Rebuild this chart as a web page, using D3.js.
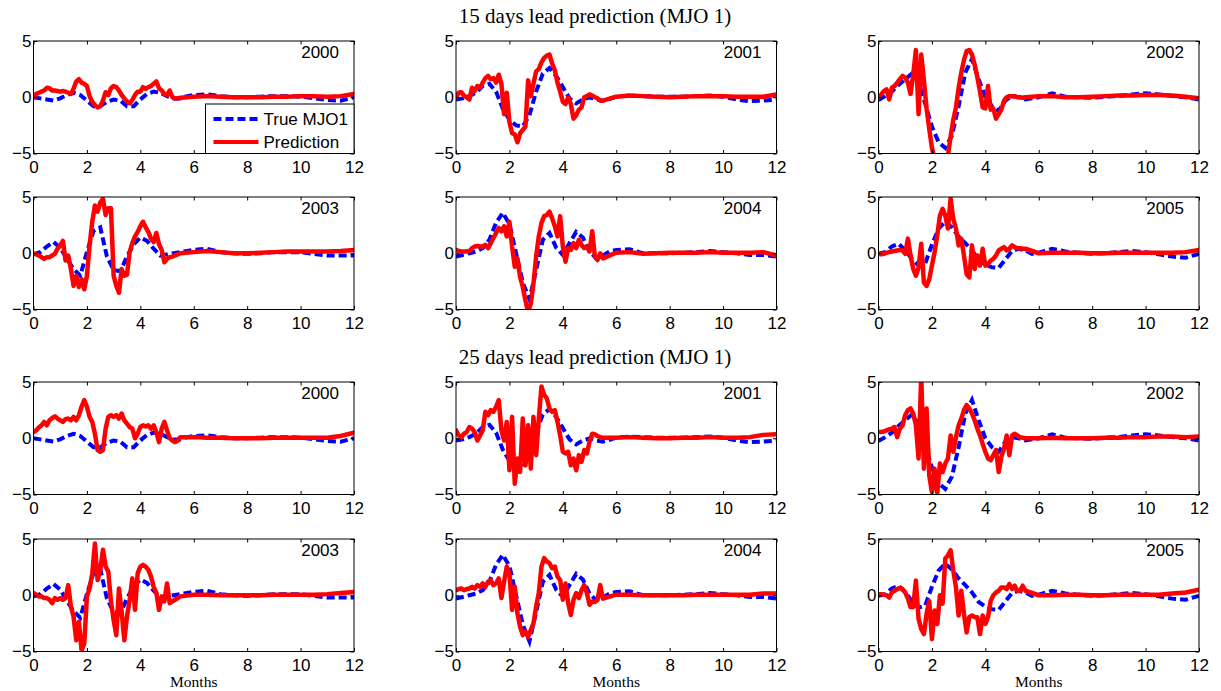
<!DOCTYPE html>
<html>
<head>
<meta charset="utf-8">
<script src="https://cdn.jsdelivr.net/npm/d3@7"></script>
<style>
  body { margin: 0; background: #fff; }
</style>
</head>
<body>
<div id="canvas"></div>
<script>
const years = [2000, 2001, 2002, 2003, 2004, 2005]
const leads = [15, 25]
const xTicks = [0, 2, 4, 6, 8, 10, 12]
const yTicks = [-5, 0, 5]

// sample months for the true index and for the predictions
const trueMonths = [0, 0.25, 0.5, 0.75, 1, 1.25, 1.5, 1.75, 2, 2.25, 2.5, 2.75, 3, 3.25, 3.5, 3.75, 4, 4.25, 4.5, 4.75, 5, 5.25, 5.5, 5.75, 6,
  6.5, 7, 7.5, 8, 8.5, 9, 9.5, 10, 10.5, 11, 11.5, 12]
const predMonths = [0, 0.1, 0.2, 0.3, 0.4, 0.5, 0.6, 0.7, 0.8, 0.9, 1, 1.1, 1.2, 1.3, 1.4, 1.5, 1.6, 1.7, 1.8, 1.9,
  2, 2.1, 2.2, 2.3, 2.4, 2.5, 2.6, 2.7, 2.8, 2.9, 3, 3.1, 3.2, 3.3, 3.4, 3.5, 3.6, 3.7, 3.8, 3.9,
  4, 4.1, 4.2, 4.3, 4.4, 4.5, 4.6, 4.7, 4.8, 4.9, 5, 5.1, 5.2, 5.3, 5.4, 5.5,
  6, 6.5, 7, 7.5, 8, 8.5, 9, 9.5, 10, 10.5, 11, 11.5, 12]

// true MJO1
const true2000 = [0, -0.1, -0.2, -0.3, -0.1, 0.2, 0.4, 0.2, -0.3, -0.8, -0.8, -0.4, -0.2, -0.3, -0.8, -0.8, -0.2, 0.3, 0.5, 0.4, 0.1, -0.1, -0.1, 0.1, 0.2,
  0.25, 0.1, 0, 0, 0.05, 0.1, 0.1, 0.05, -0.1, -0.25, -0.3, 0]
const true2001 = [-0.2, -0.1, 0.1, 0.4, 1.0, 1.2, 0.5, -1.0, -2.0, -2.5, -2.6, -1.6, 0.5, 2.1, 2.6, 1.9, 0.9, -0.1, -0.55, -0.2, 0, -0.2, -0.3, -0.15, 0.05,
  0.15, 0.1, 0.05, 0.05, 0.05, 0.1, 0.15, 0.05, -0.2, -0.35, -0.3, -0.2]
const true2002 = [-0.25, 0.1, 0.5, 1.1, 1.6, 2.1, 1.3, -0.6, -2.6, -4.0, -4.5, -3.4, -0.8, 2.2, 3.4, 1.6, 0, -0.8, -1.2, -0.3, 0.1, 0, -0.2, -0.1, 0,
  0.35, 0.05, 0, -0.05, 0.05, 0.1, 0.25, 0.35, 0.25, 0.1, 0, -0.2]
const true2003 = [-0.1, 0.1, 0.6, 1.0, 0.5, -0.5, -1.4, -2.0, 0.1, 2.0, 2.3, -0.3, -1.5, -1.6, -0.3, 0.8, 1.4, 1.1, 0.4, -0.2, -0.1, 0, 0.1, 0.2, 0.3,
  0.4, 0.1, 0, -0.05, 0, 0.1, 0.1, 0.1, -0.05, -0.2, -0.2, -0.2]
const true2004 = [-0.3, -0.15, 0, 0.15, 0.45, 1.2, 2.7, 3.6, 2.6, 0, -2.6, -4.1, -1.5, 1.2, 1.8, 0.5, -0.15, 0.9, 1.9, 1.4, 0.15, -0.45, -0.2, 0.15, 0.3,
  0.35, 0, 0, 0, 0.05, 0.1, 0.2, 0.1, 0, -0.15, -0.15, -0.3]
const true2005 = [-0.05, 0.1, 0.6, 0.85, 0.25, -0.5, -1.1, -0.9, 0.75, 2.2, 2.8, 2.3, 1.5, 0.9, 0.25, -0.6, -1.0, -1.25, -1.3, -0.55, 0.2, 0.4, 0.25, -0.05, 0.05,
  0.4, 0.15, 0.05, -0.05, 0, 0.1, 0.2, 0.1, -0.1, -0.3, -0.4, -0.05]

// 15 days lead prediction
const pred15_2000 = [0, 0.3, 0.4, 0.5, 0.6, 0.85, 0.8, 0.6, 0.6, 0.55,
  0.5, 0.55, 0.5, 0.4, 0.3, 0.75, 1.4, 1.6, 1.3, 1.2,
  1.0, 0.1, -0.4, -0.7, -0.9, -0.8, -0.3, 0.45, 0.2, 0.8,
  1.0, 0.9, 0.6, 0.2, -0.1, -0.4, -0.55, -0.25, 0.2, 0.5,
  0.5, 0.9, 0.75, 0.9, 1.0, 1.2, 1.4, 0.8, 0.6, 0.3,
  0.2, 0.6, 0, -0.1, -0.1, -0.05,
  0.05, 0.1, 0.05, 0, 0, 0, 0.05, 0.05, 0.1, 0.1, 0.05, 0.1, 0.3]
const pred15_2001 = [0, 0.4, 0.45, 0.15, 0, -0.2, 0.85, 0.55, 1.0, 0.85,
  1.3, 1.7, 1.9, 1.6, 1.7, 1.3, 2.0, 1.2, -1.5, 0.4,
  -2.2, -3.2, -3.3, -4.0, -3.2, -2.9, -2.6, 1.5, 0.1, 1.2,
  2.3, 2.5, 3.1, 3.5, 3.7, 3.8, 3.0, 2.4, 1.3, 0.5,
  -0.4, -0.6, 0, -0.6, -1.9, -1.6, -1.1, -0.9, 0, 0.1,
  0.25, 0.15, 0, -0.1, -0.3, -0.3,
  0.05, 0.15, 0.1, 0.05, 0, 0.05, 0.1, 0.1, 0.1, 0.05, 0.05, 0.05, 0.25]
const pred15_2002 = [0, 0.25, 0.55, 0.7, -0.2, 0.85, 1.0, 1.3, 1.6, 1.9,
  1.75, 1.3, 0.3, 2.0, 4.2, -1.5, 3.8, 1.5, -1.0, -2.8,
  -4.5, -5.5, -5.5, -6, -5.5, -5.2, -5.2, -3.5, -2.0, -0.9,
  0.8, 2.2, 3.3, 4.1, 4.2, 3.8, 2.9, 1.8, 0.5, -0.9,
  -1.0, 1.0, -1.1, -1.0, -1.9, -1.5, -1.1, -0.3, 0, 0.1,
  0.1, 0.1, 0, 0, -0.05, 0,
  0.1, 0.1, 0, 0, 0.05, 0.1, 0.15, 0.15, 0.2, 0.2, 0.15, 0.05, -0.1]
const pred15_2003 = [0, -0.1, -0.2, -0.35, -0.5, -0.35, -0.35, -0.2, -0.05, 0.4,
  0.7, 1.1, -0.65, -0.2, -1.4, -2.9, -2.0, -3.0, -2.3, -3.2,
  -2.0, 0.7, 2.8, 4.25, 3.7, 4.5, 4.85, 3.4, 4.0, 4.0,
  -2.0, -2.9, -3.5, -1.4, -2.0, -1.9, 0.1, 0.9, 1.5, 1.9,
  2.4, 2.8, 2.3, 1.9, 1.3, 1.0, 1.8, 0.8, 0.3, -0.8,
  -0.5, -0.35, -0.3, -0.2, -0.1, 0,
  0.1, 0.2, 0.1, 0, 0, 0.05, 0.1, 0.15, 0.15, 0.15, 0.15, 0.2, 0.3]
const pred15_2004 = [0.3, 0.2, 0.15, 0.15, 0.15, 0.2, 0.45, 0.6, 0.65, 0.6,
  0.6, 0.75, 0.45, 0.9, 1.35, 1.8, 2.25, 1.95, 2.4, 1.5,
  2.8, 0.6, -1.2, -0.45, -2.1, -3.0, -4.2, -5.2, -4.5, -2.7,
  -0.3, 1.5, 2.7, 3.3, 3.4, 3.7, 3.1, 2.4, 1.5, 3.3,
  0.6, -0.75, 0.45, 0.3, 0.9, 0.45, 1.2, 0.75, 0.45, 0.6,
  0.15, 1.95, -0.3, -0.6, 0, -0.45,
  0.05, 0.1, -0.05, 0, 0.05, 0.05, 0.05, 0.1, 0.05, 0.05, 0.05, 0.1, -0.2]
const pred15_2005 = [-0.05, -0.1, -0.05, 0.05, 0.1, 0.15, 0.2, 0.25, 0.3, 0.25,
  -0.05, 1.3, -0.2, -1.4, -2.0, -1.25, 0.85, -2.6, -2.9, -2.3,
  -1.1, 0.1, 1.6, 3.35, 3.95, 3.35, 2.2, 4.85, 3.05, 2.2,
  0.7, 1.3, -0.2, -1.85, -2.15, 0.7, -1.4, -0.2, -1.1, 0.4,
  -1.1, -0.95, -0.65, -0.5, -0.2, 0.25, 0.4, 0.55, 0.25, 0.4,
  0.7, 0.55, 0.45, 0.45, 0.4, 0.4,
  0, 0.05, 0.05, 0.05, 0, 0, 0.05, 0.05, 0.05, 0.05, 0.05, 0.1, 0.3]

// 25 days lead prediction
const pred25_2000 = [0.55, 0.7, 0.95, 1.15, 1.45, 1.15, 1.6, 1.8, 1.95, 1.75,
  1.6, 1.45, 1.7, 1.75, 1.6, 1.9, 1.6, 2.05, 2.8, 3.4,
  2.8, 1.9, 1.45, 0.4, -1.05, -1.2, -1.05, 0.85, 1.9, 2.05,
  1.9, 2.05, 1.75, 2.2, 1.6, 1.3, 1.0, 0.85, 0, 0.4,
  1.0, 1.15, 1.05, 1.15, 0.85, 1.15, 0.55, -0.35, 0.85, 1.45,
  0.7, 0, -0.2, -0.35, -0.2, 0.1,
  0.1, 0.05, 0.05, 0, 0, 0, 0.05, 0.05, 0.05, 0.05, 0.05, 0.2, 0.5]
const pred25_2001 = [0.7, 0.25, 0.1, 0.4, 0.55, 1.0, 0.85, 0.55, -0.2, 0.25,
  0.7, 2.35, 2.05, 2.5, 2.35, 2.8, 3.4, 0.7, -0.2, 1.45,
  -2.85, 1.9, -4.05, -1.8, -3.0, 1.75, -2.4, 1.15, -2.7, 1.9,
  -1.5, 1.75, 4.6, 3.85, 3.55, 2.65, 2.35, 2.5, 1.45, 0.25,
  -1.2, -1.35, -1.2, -2.4, -1.8, -2.85, -1.5, -2.1, -1.05, -1.35,
  -0.3, 0.4, 0.35, 0.2, 0.1, 0.05,
  0.05, 0.1, 0.05, 0, 0, 0.05, 0.05, 0.1, 0.05, 0.05, 0.1, 0.3, 0.35]
const pred25_2002 = [0.55, 0.55, 0.6, 0.7, 0.8, 0.85, 1.0, 0.1, 0.85, 1.15,
  2.05, 2.5, 2.65, 2.2, 1.15, -1.8, 5.6, -2.7, 2.65, -3.3,
  -4.8, -2.7, -4.9, -2.25, -3.0, -2.25, -1.8, 0.25, -1.2, 0.1,
  1.15, 1.75, 2.5, 2.95, 2.65, 2.2, 1.6, 0.85, 0.25, -0.5,
  -1.2, -1.8, -1.95, -1.5, -1.05, -3.0, -1.65, -0.9, 0.25, -1.5,
  0.25, 0.4, 0.25, 0.1, 0.05, 0,
  0, 0.05, 0, 0, 0, 0.05, 0.05, 0.1, 0.1, 0.15, 0.15, 0.1, 0.15]
const pred25_2003 = [0.2, 0.05, -0.1, -0.1, -0.25, -0.25, -0.4, -0.7, -0.25, -0.4,
  -0.25, -0.4, -0.25, 0.9, -1.0, -1.9, -4.0, -2.35, -4.9, -4.3,
  -0.1, 0.6, 1.95, 4.6, 1.35, 2.25, 4.05, 2.55, 2.1, -0.55,
  -2.2, -3.55, 0.6, -1.45, -4.0, -1.9, -0.4, 1.5, -1.3, 1.95,
  2.55, 2.7, 2.55, 2.25, 1.65, 0.75, 0.2, -1.3, -0.1, -0.55,
  1.05, -0.7, -0.55, -0.4, -0.25, -0.1,
  0.05, 0.05, 0, 0, 0, 0, 0.05, 0.05, 0.05, 0.05, 0.1, 0.2, 0.3]
const pred25_2004 = [0.45, 0.55, 0.6, 0.45, 0.55, 0.6, 0.75, 0.6, 0.9, 0.75,
  1.05, 0.75, 1.2, 1.35, 0.9, 1.05, 1.5, -0.25, 1.2, 2.55,
  1.95, -1.3, 0.75, -1.6, -2.8, -3.55, -3.25, -3.7, -3.1, -2.5,
  -1.0, 0.2, 2.55, 3.3, 3.0, 2.85, 2.4, 2.55, 1.65, 1.35,
  -0.4, 1.05, -0.7, -1.75, -0.4, 0.2, -0.25, 0.45, 0.9, 0.2,
  -0.85, -0.55, -0.6, -0.4, 0.9, -0.3,
  0.05, 0.05, 0, 0, 0, 0, 0.05, 0.05, 0.05, 0.05, 0.05, 0.15, 0.15]
const pred25_2005 = [0.1, 0.1, 0.05, 0, -0.2, 0.25, 0.4, 0.55, 0.65, 0.55,
  0.25, -0.3, -1.05, -1.05, 1.3, -2.1, -3.0, -3.45, -1.65, -0.5,
  -3.9, -1.35, -2.55, 0, -0.75, 3.25, 3.55, 4.0, 2.2, 0.7,
  -1.8, 0.4, -1.65, -3.3, -1.95, -1.8, -1.95, -1.95, -3.45, -1.8,
  -2.55, -1.95, -0.5, 0, 0.25, 0.4, 0.7, 0.7, 0.55, 1.0,
  0.55, 0.85, 0.4, 0.4, 0.85, 0.4,
  0, 0, 0.05, 0.05, 0, 0, 0.05, 0.05, 0.05, 0.05, 0.15, 0.25, 0.5]

const trueByYear = { 2000: true2000, 2001: true2001, 2002: true2002, 2003: true2003, 2004: true2004, 2005: true2005 }
const predByLead = {
  15: { 2000: pred15_2000, 2001: pred15_2001, 2002: pred15_2002, 2003: pred15_2003, 2004: pred15_2004, 2005: pred15_2005 },
  25: { 2000: pred25_2000, 2001: pred25_2001, 2002: pred25_2002, 2003: pred25_2003, 2004: pred25_2004, 2005: pred25_2005 },
}

const width = 1221
const height = 691
const colLeft = [33.5, 456, 878.5]
const rowTop = [41, 197, 382, 539]
const pw = 320.5
const ph = 112.5
const sans = '"Liberation Sans", Arial, sans-serif'
const serif = '"Liberation Serif", "Times New Roman", serif'

const svg = d3.select('#canvas').append('svg')
  .attr('width', width)
  .attr('height', height)

svg.append('defs').append('clipPath').attr('id', 'clip')
  .append('rect').attr('width', pw).attr('height', ph)

const x = d3.scaleLinear().domain([0, 12]).range([0, pw])
const y = d3.scaleLinear().domain([-5, 5]).range([ph, 0])

const lineFor = (months) => d3.line()
  .x((d, i) => x(months[i]))
  .y((d) => y(d))

function styleAxis(sel) {
  sel.select('.domain').remove()
  sel.selectAll('line').attr('stroke', '#000')
  sel.selectAll('text').attr('font-family', sans).attr('font-size', 17).attr('fill', '#000')
  sel.attr('font-family', sans).attr('font-size', 17)
}

leads.forEach((lead, li) => {
  years.forEach((yr, yi) => {
    const col = yi % 3
    const row = li * 2 + Math.floor(yi / 3)
    const g = svg.append('g')
      .attr('transform', `translate(${colLeft[col]},${rowTop[row]})`)

    const plot = g.append('g').attr('clip-path', 'url(#clip)')
    plot.append('path')
      .attr('d', lineFor(trueMonths)(trueByYear[yr]))
      .attr('fill', 'none')
      .attr('stroke', '#0000ff')
      .attr('stroke-width', 4)
      .attr('stroke-dasharray', '8,4')
    plot.append('path')
      .attr('d', lineFor(predMonths)(predByLead[lead][yr]))
      .attr('fill', 'none')
      .attr('stroke', '#ff0000')
      .attr('stroke-width', 4.5)
      .attr('stroke-linejoin', 'round')
      .attr('stroke-linecap', 'round')

    // axes with inward ticks on all four sides
    g.append('g').attr('transform', `translate(0,${ph})`)
      .call(d3.axisBottom(x).tickValues(xTicks).tickSize(-3.5).tickPadding(7).tickFormat(d3.format('d')))
      .call(styleAxis)
    g.append('g')
      .call(d3.axisTop(x).tickValues(xTicks).tickSize(-3.5).tickFormat(''))
      .call(styleAxis)
    g.append('g')
      .call(d3.axisLeft(y).tickValues(yTicks).tickSize(-3.5).tickPadding(2).tickFormat(d3.format('d')))
      .call(styleAxis)
    g.append('g').attr('transform', `translate(${pw},0)`)
      .call(d3.axisRight(y).tickValues(yTicks).tickSize(-3.5).tickFormat(''))
      .call(styleAxis)

    g.append('rect')
      .attr('width', pw).attr('height', ph)
      .attr('fill', 'none').attr('stroke', '#000').attr('stroke-width', 1)

    g.append('text')
      .attr('x', pw - 15).attr('y', 16.5)
      .attr('text-anchor', 'end')
      .attr('font-family', sans).attr('font-size', 17)
      .text(yr)

    // legend only in the first panel
    if (li === 0 && yi === 0) {
      const lg = g.append('g').attr('transform', `translate(${pw - 148.5},${ph - 49.5})`)
      lg.append('rect').attr('width', 148.5).attr('height', 49.5)
        .attr('fill', '#fff').attr('stroke', '#000').attr('stroke-width', 1)
      const items = [
        { label: 'True MJO1', color: '#0000ff', dash: '8,4' },
        { label: 'Prediction', color: '#ff0000', dash: null },
      ]
      items.forEach((it, i) => {
        const yy = 15 + i * 23
        lg.append('line')
          .attr('x1', 8).attr('x2', 53).attr('y1', yy).attr('y2', yy)
          .attr('stroke', it.color).attr('stroke-width', 4)
          .attr('stroke-dasharray', it.dash)
        lg.append('text')
          .attr('x', 58).attr('y', yy + 6)
          .attr('font-family', sans).attr('font-size', 17)
          .text(it.label)
      })
    }

    if (row === 3) {
      g.append('text')
        .attr('x', pw / 2).attr('y', 687 - rowTop[row])
        .attr('text-anchor', 'middle')
        .attr('font-family', serif).attr('font-size', 15.5)
        .text('Months')
    }
  })
})

svg.append('text')
  .attr('x', 595).attr('y', 23)
  .attr('text-anchor', 'middle')
  .attr('font-family', serif).attr('font-size', 21)
  .text('15 days lead prediction (MJO 1)')
svg.append('text')
  .attr('x', 595).attr('y', 364)
  .attr('text-anchor', 'middle')
  .attr('font-family', serif).attr('font-size', 21)
  .text('25 days lead prediction (MJO 1)')
</script>
</body>
</html>
